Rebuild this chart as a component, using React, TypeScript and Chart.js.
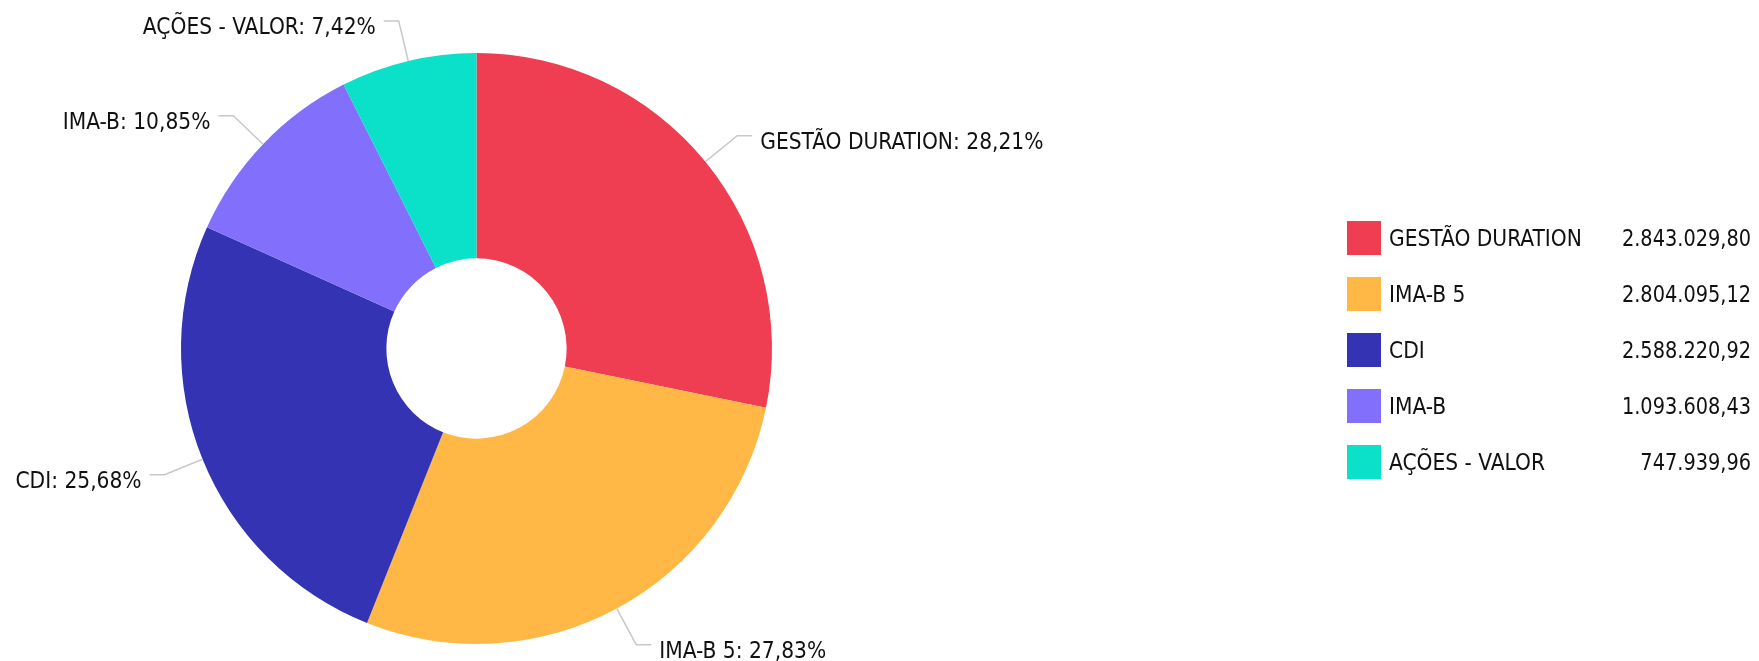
import React, { useEffect, useRef } from "react";
import { Chart, registerables } from "chart.js";

Chart.register(...registerables);

const categories = ["GESTÃO DURATION", "IMA-B 5", "CDI", "IMA-B", "AÇÕES - VALOR"];
const seriesValues = [2843029.8, 2804095.12, 2588220.92, 1093608.43, 747939.96];
const sliceColors = ["#EF3D52", "#FFB845", "#3333B3", "#826FFC", "#0BE0C8"];

const FONT = '22.5px "DejaVu Sans Condensed"';

function fmtNumber(v: number): string {
  const fixed = v.toFixed(2);
  const [intPart, dec] = fixed.split(".");
  const withDots = intPart.replace(/\B(?=(\d{3})+(?!\d))/g, ".");
  return withDots + "," + dec;
}

function fmtPct(v: number, total: number): string {
  return ((v / total) * 100).toFixed(2).replace(".", ",") + "%";
}

const labelPlugin = {
  id: "leaderLabels",
  afterDatasetsDraw(chart: any) {
    const ctx = chart.ctx;
    const meta = chart.getDatasetMeta(0);
    const data = chart.data.datasets[0].data as number[];
    const total = data.reduce((a, b) => a + b, 0);
    ctx.save();
    ctx.font = FONT;
    ctx.fillStyle = "#111";
    ctx.strokeStyle = "#c8c8c8";
    ctx.lineWidth = 1.5;
    meta.data.forEach((arc: any, i: number) => {
      const mid = (arc.startAngle + arc.endAngle) / 2;
      const r0 = arc.outerRadius;
      const r1 = r0 + 41;
      const x0 = arc.x + Math.cos(mid) * r0;
      const y0 = arc.y + Math.sin(mid) * r0;
      const x1 = arc.x + Math.cos(mid) * r1;
      const y1 = arc.y + Math.sin(mid) * r1;
      const dir = Math.cos(mid) >= 0 ? 1 : -1;
      const x2 = x1 + dir * 15;
      ctx.beginPath();
      ctx.moveTo(x0, y0);
      ctx.lineTo(x1, y1);
      ctx.lineTo(x2, y1);
      ctx.stroke();
      const text = categories[i] + ": " + fmtPct(data[i], total);
      ctx.textAlign = dir > 0 ? "left" : "right";
      ctx.textBaseline = "alphabetic";
      ctx.fillText(text, x2 + dir * 8, y1 + 13);
    });
    ctx.restore();
  },
  afterDraw(chart: any) {
    const ctx = chart.ctx;
    const right = chart.width;
    ctx.save();
    ctx.font = FONT;
    categories.forEach((name, i) => {
      const top = 213 + i * 56;
      ctx.fillStyle = sliceColors[i];
      ctx.fillRect(1339, top, 34, 34);
      ctx.fillStyle = "#111";
      ctx.textBaseline = "alphabetic";
      ctx.textAlign = "left";
      ctx.fillText(name, 1381, top + 25);
      ctx.save();
      ctx.translate(right, top + 25);
      ctx.scale(0.955, 1);
      ctx.textAlign = "right";
      ctx.fillText(fmtNumber(seriesValues[i]), 0, 0);
      ctx.restore();
    });
    ctx.restore();
  },
};

export default function App() {
  const ref = useRef<HTMLCanvasElement | null>(null);
  useEffect(() => {
    if (!ref.current) return;
    const chart = new Chart(ref.current, {
      type: "doughnut",
      data: {
        labels: categories,
        datasets: [
          {
            data: seriesValues,
            backgroundColor: sliceColors,
            borderWidth: 0,
          },
        ],
      },
      options: {
        animation: false,
        responsive: true,
        maintainAspectRatio: false,
        cutout: "30.5%",
        layout: { padding: { top: 45, bottom: 17, left: 173, right: 979 } },
        plugins: {
          legend: { display: false },
          tooltip: { enabled: false },
        },
      },
      plugins: [labelPlugin],
    });
    return () => chart.destroy();
  }, []);
  return (
    <div style={{ position: "relative", width: "100%", height: "653px" }}>
      <canvas ref={ref} />
    </div>
  );
}
